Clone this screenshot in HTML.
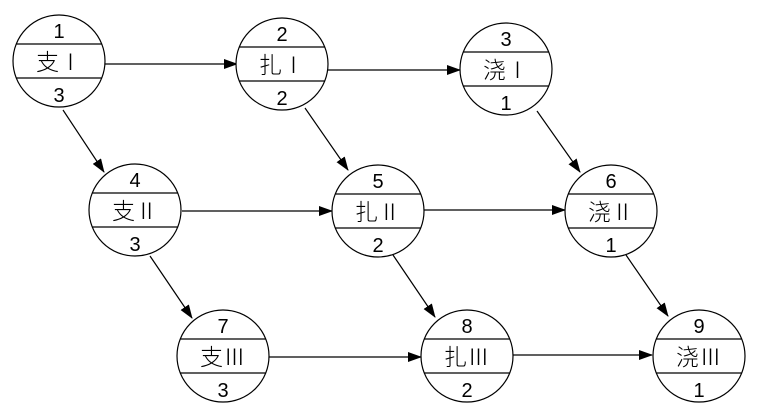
<!DOCTYPE html>
<html><head><meta charset="utf-8"><style>
html,body{margin:0;padding:0;background:#fff;}
svg{display:block}
text{font-family:"Liberation Sans","Noto Sans CJK SC",sans-serif;fill:#000;text-anchor:middle;font-weight:300}
.n{font-size:20px}.m{font-size:23px}
</style></head><body>
<svg width="769" height="418" viewBox="0 0 769 418" xmlns="http://www.w3.org/2000/svg">
<defs>
<marker id="a" markerWidth="14" markerHeight="10" refX="13" refY="5" orient="auto" markerUnits="userSpaceOnUse">
<path d="M0,0 L14,5 L0,10 Z" fill="#000"/>
</marker>
<g id="c" stroke="#000" stroke-width="1.2" fill="#fff">
<circle cx="0" cy="0" r="46"/>
<line x1="-42.7" y1="-17" x2="42.7" y2="-17"/>
<line x1="-42.7" y1="17" x2="42.7" y2="17"/>
</g>
</defs>
<g stroke="#000" stroke-width="1.2" fill="none">
<line x1="105" y1="64" x2="237" y2="64" marker-end="url(#a)"/>
<line x1="328" y1="70" x2="460" y2="70" marker-end="url(#a)"/>
<line x1="182" y1="211" x2="332" y2="211" marker-end="url(#a)"/>
<line x1="424" y1="210" x2="565" y2="210" marker-end="url(#a)"/>
<line x1="269" y1="357" x2="421" y2="357" marker-end="url(#a)"/>
<line x1="513" y1="355" x2="652" y2="355" marker-end="url(#a)"/>
<line x1="63" y1="110" x2="104" y2="172" marker-end="url(#a)"/>
<line x1="150" y1="256" x2="192" y2="318" marker-end="url(#a)"/>
<line x1="305" y1="108" x2="348" y2="170" marker-end="url(#a)"/>
<line x1="393" y1="255" x2="435" y2="317" marker-end="url(#a)"/>
<line x1="537" y1="111" x2="580" y2="172" marker-end="url(#a)"/>
<line x1="626" y1="255" x2="668" y2="316" marker-end="url(#a)"/>
</g>

<g transform="translate(59,61)"><use href="#c"/><text class="n" y="-23">1</text><text class="m" y="9">支Ⅰ</text><text class="n" y="41">3</text></g>
<g transform="translate(282,64)"><use href="#c"/><text class="n" y="-23">2</text><text class="m" y="9">扎Ⅰ</text><text class="n" y="41">2</text></g>
<g transform="translate(506,69)"><use href="#c"/><text class="n" y="-23">3</text><text class="m" y="9">浇Ⅰ</text><text class="n" y="41">1</text></g>
<g transform="translate(135,210)"><use href="#c"/><text class="n" y="-23">4</text><text class="m" y="9">支Ⅱ</text><text class="n" y="41">3</text></g>
<g transform="translate(378,211)"><use href="#c"/><text class="n" y="-23">5</text><text class="m" y="9">扎Ⅱ</text><text class="n" y="41">2</text></g>
<g transform="translate(611,211)"><use href="#c"/><text class="n" y="-23">6</text><text class="m" y="9">浇Ⅱ</text><text class="n" y="41">1</text></g>
<g transform="translate(223,356)"><use href="#c"/><text class="n" y="-23">7</text><text class="m" y="9">支Ⅲ</text><text class="n" y="41">3</text></g>
<g transform="translate(467,356)"><use href="#c"/><text class="n" y="-23">8</text><text class="m" y="9">扎Ⅲ</text><text class="n" y="41">2</text></g>
<g transform="translate(699,356)"><use href="#c"/><text class="n" y="-23">9</text><text class="m" y="9">浇Ⅲ</text><text class="n" y="41">1</text></g>
</svg>
</body></html>
